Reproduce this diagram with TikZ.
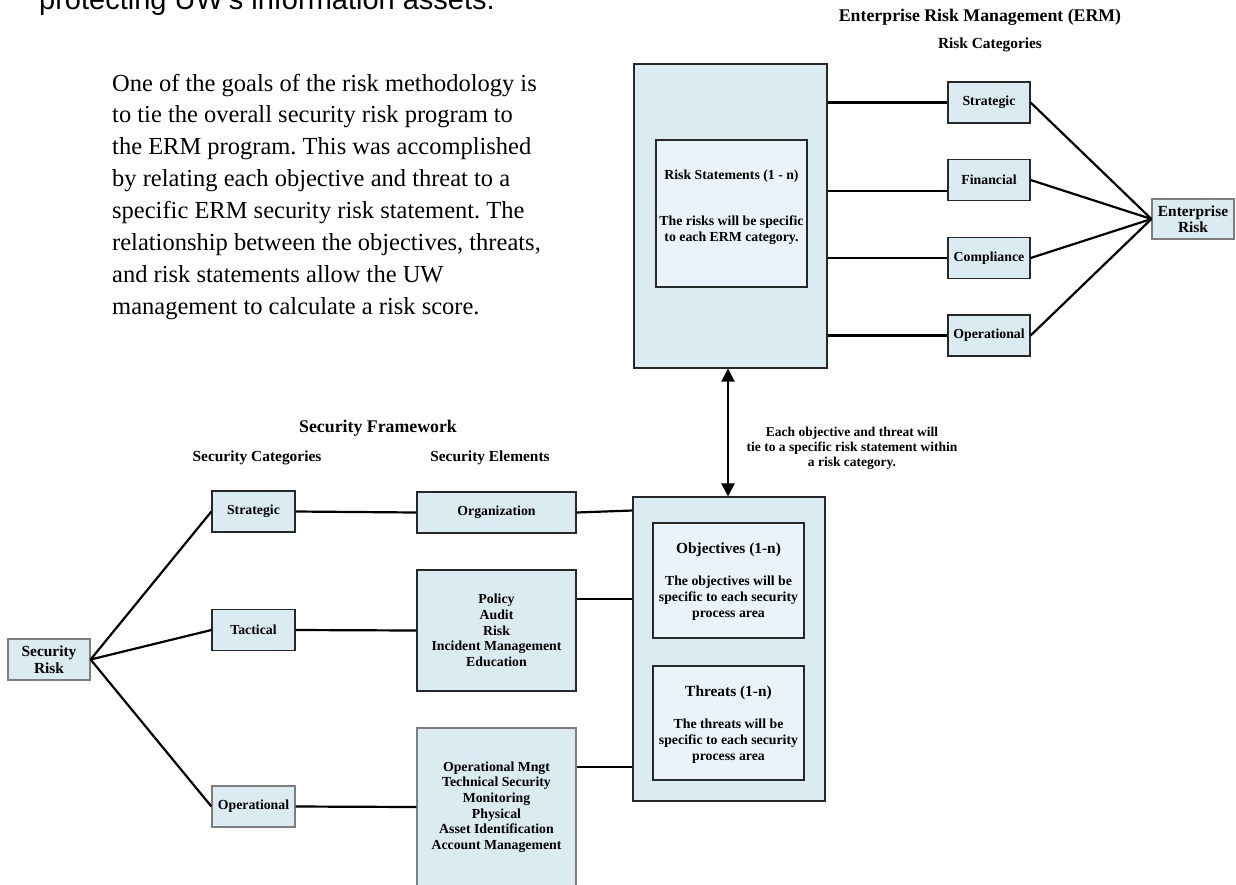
\documentclass[tikz,border=0pt]{standalone}
\usepackage{fontspec}
\setmainfont{Liberation Serif}
\newfontfamily\arialf{Liberation Sans}
\usetikzlibrary{arrows.meta}
\frenchspacing
\definecolor{boxfill}{RGB}{218,235,242}
\definecolor{innerfill}{RGB}{235,243,250}
\definecolor{darkedge}{RGB}{40,40,40}
\definecolor{greyedge}{RGB}{125,125,125}
\newcommand\mylbl{\bfseries\fontsize{13.8}{15.7}\selectfont}
\newcommand\mymid{\bfseries\fontsize{15.4}{16.5}\selectfont}
\newcommand\mytitle{\bfseries\fontsize{17.8}{20}\selectfont}
\newcommand\mysmall{\bfseries\fontsize{13.5}{15}\selectfont}
\tikzset{
  box/.style={draw=darkedge, line width=1.2pt, fill=boxfill, rectangle, inner sep=0pt, align=center, font=\mylbl},
  gbox/.style={box, draw=greyedge},
  ibox/.style={box, fill=innerfill},
  txt/.style={inner sep=0pt, align=center, font=\mylbl},
  conn/.style={line width=2.2pt, draw=black},
  catsize/.style={minimum width=82pt, minimum height=41pt},
  elsize/.style={minimum width=159pt}
}
\begin{document}
\begin{tikzpicture}[x=1pt,y=-1pt]
\useasboundingbox (0,0) rectangle (1236,884);
\fill[white] (0,0) rectangle (1236,884);

% top text
\node[anchor=base west, inner sep=0pt, font=\arialf\fontsize{29}{33}\selectfont] (toptext) at (39,9.5) {protecting UW’s information assets.};
\node[anchor=base west, inner sep=0pt, align=left, font=\fontsize{24.5}{31.9}\selectfont] (para) at (112,314.3)
 {One of the goals of the risk methodology is\\
  to tie the overall security risk program to\\
  the ERM program. This was accomplished\\
  by relating each objective and threat to a\\
  specific ERM security risk statement. The\\
  relationship between the objectives, threats,\\
  and risk statements allow the UW\\
  management to calculate a risk score.};

% ERM side
\node[txt, font=\mytitle] (ermtitle) at (980,17) {Enterprise Risk Management (ERM)};
\node[txt, font=\mymid] (rctitle) at (990,45) {Risk Categories};
\node[box, minimum width=193pt, minimum height=304pt] (erm) at (730.5,216) {};
\node[ibox, minimum width=151pt, minimum height=147pt] (rs) at (731.5,213.5) {};
\node[txt] (rstitle) at (731.5,176) {Risk Statements (1 - n)};
\node[txt] (rsbody) at (731.5,230) {The risks will be specific\\to each ERM category.};

\node[box, catsize] (ecs) at (989,102.5) {Strategic};
\node[box, catsize] (ecf) at (989,180) {Financial};
\node[box, catsize] (ecc) at (989,258) {Compliance};
\node[box, catsize] (eco) at (989,335.5) {Operational};
\node[gbox, minimum width=82pt, minimum height=40pt, font=\mymid] (er) at (1193,219) {Enterprise\\Risk};

\coordinate (f1) at ([yshift=-11pt]ecf.west);
\draw[conn] (erm.east |- ecs.west) -- (ecs.west);
\draw[conn] (erm.east |- f1) -- (f1);
\draw[conn] (erm.east |- ecc.west) -- (ecc.west);
\draw[conn] (erm.east |- eco.west) -- (eco.west);
\draw[conn] (ecs.east) -- (er.west);
\draw[conn] (ecf.east) -- (er.west);
\draw[conn] (ecc.east) -- (er.west);
\draw[conn] (eco.east) -- (er.west);

% objectives / threats
\node[box, minimum width=192pt, minimum height=304pt] (obj) at (729,649) {};
\node[ibox, minimum width=151pt, minimum height=115pt] (objin) at (728.5,580.5) {};
\node[txt, font=\mymid] (objtitle) at (728.5,550) {Objectives (1-n)};
\node[txt] (objbody) at (728.5,598) {The objectives will be\\specific to each security\\process area};
\node[ibox, minimum width=151pt, minimum height=114pt] (thr) at (728.5,723) {};
\node[txt, font=\mymid] (thrtitle) at (728.5,693) {Threats (1-n)};
\node[txt] (thrbody) at (728.5,741) {The threats will be\\specific to each security\\process area};

\draw[conn, line width=2.4pt, {Triangle[length=13pt,width=13pt]}-{Triangle[length=13pt,width=13pt]}]
  ([xshift=-2.5pt]erm.south) -- ([xshift=-1pt]obj.north);
\node[txt, font=\mysmall] (tielabel) at (852,448) {Each objective and threat will\\tie to a specific risk statement within\\a risk category.};

% Security side
\node[txt, font=\mytitle] (sftitle) at (378,428) {Security Framework};
\node[txt, font=\mymid] (sctitle) at (257,458) {Security Categories};
\node[txt, font=\mymid] (setitle) at (490,458) {Security Elements};

\node[gbox, catsize, font=\mymid] (sr) at (49,659.5) {Security\\Risk};
\node[box, minimum width=83pt, minimum height=41pt] (scs) at (253.5,511.5) {Strategic};
\node[box, minimum width=83pt, minimum height=41pt] (sct) at (253.5,630) {Tactical};
\node[gbox, minimum width=83pt, minimum height=41pt] (sco) at (253.5,806.5) {Operational};

\node[box, elsize, minimum height=41pt] (org) at (496.5,512.5) {Organization};
\node[box, elsize, minimum height=121pt] (pol) at (496.5,630.5) {Policy\\Audit\\Risk\\Incident Management\\Education};
\node[gbox, elsize, minimum height=158pt] (ope) at (496.5,807) {Operational Mngt\\Technical Security\\Monitoring\\Physical\\Asset Identification\\Account Management};

\draw[conn] (sr.east) -- (scs.west);
\draw[conn] (sr.east) -- (sct.west);
\draw[conn] (sr.east) -- (sco.west);
\draw[conn] (scs.east) -- (org.west);
\draw[conn] (sct.east) -- (pol.west);
\draw[conn] (sco.east) -- (ope.west);

\coordinate (q1) at (obj.west |- org.east);
\draw[conn] (org.east) -- ([yshift=2pt]q1);
\coordinate (pe) at ([yshift=31.5pt]pol.east);
\coordinate (q2) at (obj.west |- pe);
\draw[conn] (pe) -- (q2);
\coordinate (oe) at ([yshift=40pt]ope.east);
\coordinate (q3) at (obj.west |- oe);
\draw[conn] (oe) -- (q3);
\end{tikzpicture}
\end{document}
